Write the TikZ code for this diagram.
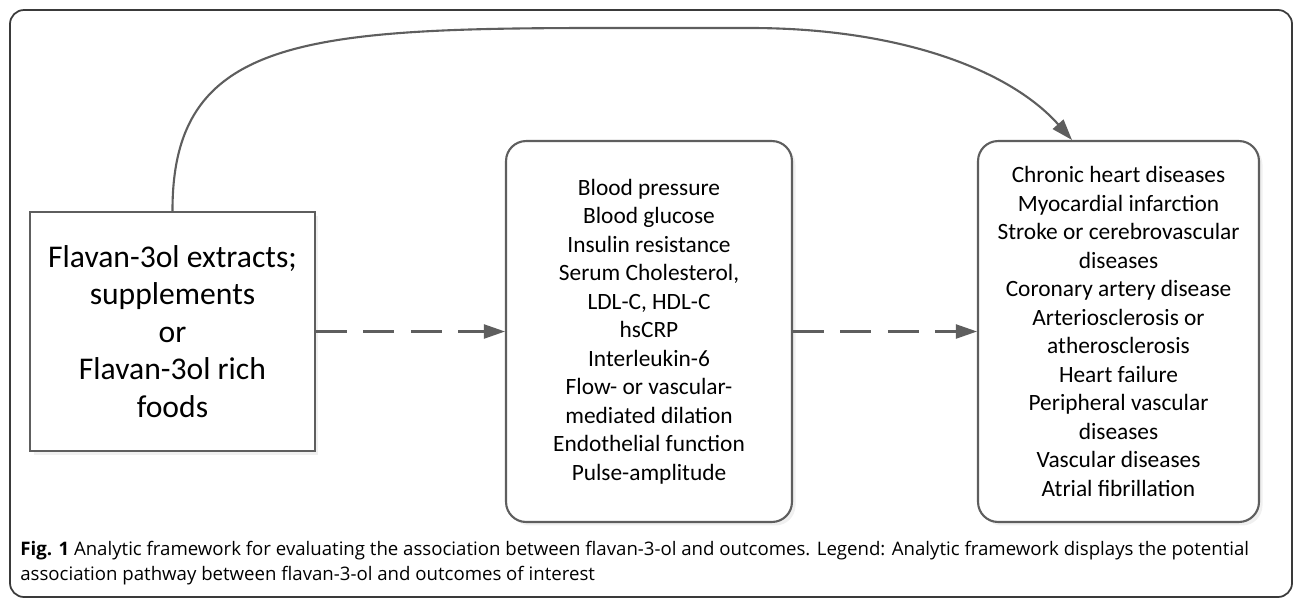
\documentclass[tikz,border=0pt]{standalone}
\usepackage{fontspec}
\setmainfont{Carlito}
\newfontfamily\capfont{Open Sans}
\usepackage{tikz}
\usetikzlibrary{arrows.meta,shadows}
\usetikzlibrary{positioning}

\definecolor{lineGray}{HTML}{5E5E5E}
\definecolor{frameGray}{HTML}{3A3A3A}

\tikzset{
  box/.style={draw=lineGray, line width=1.2pt, fill=white, align=center, inner sep=0pt,
    drop shadow={shadow xshift=2pt, shadow yshift=-2pt, opacity=0.12}},
  flow/.style={draw=lineGray, line width=1.2pt, dash pattern=on 17.5pt off 9.5pt,
    -{Triangle[length=12pt,width=8pt]}},
  link/.style={draw=lineGray, line width=1.2pt, -{Triangle[length=12pt,width=8pt]}},
  listfont/.style={font=\fontsize{13.3}{16.2}\selectfont}
}

\begin{document}
\begin{tikzpicture}[x=0.02cm, y=-0.02cm]

  % page size of the reference, in pixels
  \useasboundingbox (0,0) rectangle (1293,599);

  % outer frame
  \draw[frameGray, line width=1pt, rounded corners=8] (10,10) rectangle (1292,597);

  % Boxes
  \node[box, minimum width=5.7cm, minimum height=4.78cm,
        font=\fontsize{18}{21.4}\selectfont] (src) at (172.5,331.5)
       {Flavan-3ol extracts;\\ supplements\\ or\\ Flavan-3ol rich\\ foods};

  \node[box, rounded corners=0.4cm, minimum width=5.72cm, minimum height=7.62cm,
        listfont] (mid) at (649,331.5)
       {Blood pressure\\ Blood glucose\\ Insulin resistance\\ Serum Cholesterol,\\
        LDL-C, HDL-C\\ hsCRP\\ Interleukin-6\\ Flow- or vascular-\\ mediated dilation\\
        Endothelial function\\ Pulse-amplitude};

  \node[box, rounded corners=0.4cm, minimum width=5.62cm, minimum height=7.62cm,
        listfont] (out) at (1118.5,331.5)
       {Chronic heart diseases\\ Myocardial infarction\\ Stroke or cerebrovascular\\
        diseases\\ Coronary artery disease\\ Arteriosclerosis or\\ atherosclerosis\\
        Heart failure\\ Peripheral vascular\\ diseases\\ Vascular diseases\\
        Atrial fibrillation};

  % Flows
  \draw[flow] (src.east) -- (mid.west);
  \draw[flow] (mid.east) -- (out.west);

  % direct link over the top
  \draw[link] (src.north) .. controls (172,40) and (300,28) .. (600,28)
    -- (750,28) .. controls (900,28) and (1010,70) .. ([xshift=-0.93cm]out.north);

  % Caption
  \node[anchor=north west, align=left, inner sep=0pt,
        font=\capfont\fontsize{10.6}{14.2}\selectfont] (cap) at (20,541)
       {\textbf{Fig. 1} Analytic framework for evaluating the association between flavan-3-ol and outcomes. Legend: Analytic framework displays the potential\\
        association pathway between flavan-3-ol and outcomes of interest};

\end{tikzpicture}
\end{document}
